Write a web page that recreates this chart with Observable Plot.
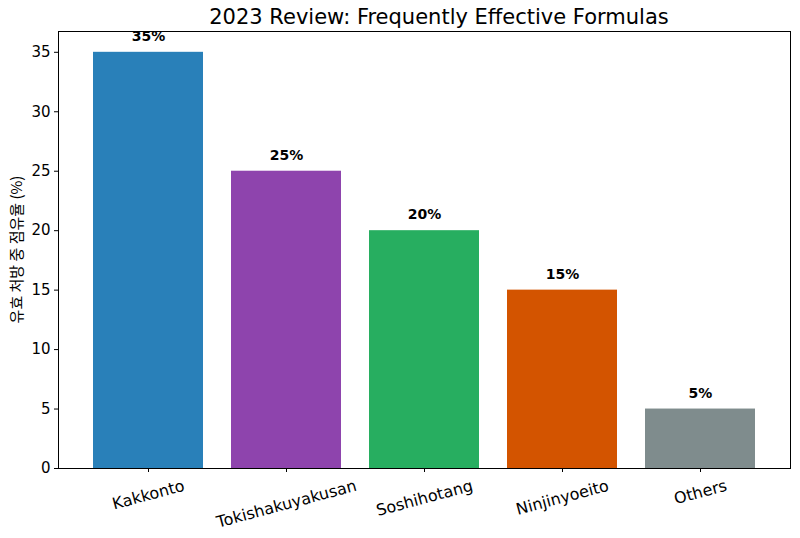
<!DOCTYPE html>
<html><head><meta charset="utf-8">
<script src="https://cdn.jsdelivr.net/npm/d3@7"></script>
<script src="https://cdn.jsdelivr.net/npm/@observablehq/plot@0.6"></script>
<style>body{margin:0;background:#fff;font-family:"DejaVu Sans",sans-serif}</style>
</head><body><div id="chart"></div>
<script>
const categories = ["Kakkonto","Tokishakuyakusan","Soshihotang","Ninjinyoeito","Others"];
const values = [35,25,20,15,5];
const colors = ["#2980b9","#8e44ad","#27ae60","#d35400","#7f8c8d"];
const yTicks = [0,5,10,15,20,25,30,35];
const title = "2023 Review: Frequently Effective Formulas";
const yLabel = "유효 처방 중 점유율 (%)";

const data = categories.map((c,i)=>({cat:c, value:values[i], color:colors[i]}));
const fontSize = 16;
const ctx = document.createElement("canvas").getContext("2d");
ctx.font = `${fontSize}px "DejaVu Sans"`;
const ang = 15*Math.PI/180;
const labelMarks = categories.map(c=>{
  const w = ctx.measureText(c).width;
  const h = fontSize*0.9;
  const bh = w*Math.sin(ang) + h*Math.cos(ang);
  return Plot.text([c], {x:d=>d, frameAnchor:"bottom", dy: 10 + bh/2, rotate:-15, textAnchor:"middle", lineAnchor:"middle", fontSize, fill:"#000"});
});

const plot = Plot.plot({
  width:800, height:538,
  marginTop:31, marginBottom:70, marginLeft:58, marginRight:10,
  style:{fontFamily:"'DejaVu Sans', sans-serif", fontSize:"15px", color:"#000", background:"#fff"},
  x:{domain:categories, paddingInner:0.2, paddingOuter:0.24, label:null},
  y:{domain:[0,36.75], label:null},
  marks:[
    Plot.barY(data,{x:"cat", y:"value", fill:"color"}),
    Plot.text(data,{x:"cat", y:"value", text:d=>d.value+"%", dy:-16, fontWeight:"bold", fontSize:14, fill:"#000"}),
    Plot.frame({stroke:"#000", strokeWidth:1}),
    Plot.axisY({ticks:yTicks, tickSize:4, tickPadding:4, fontSize:15, label:null, tickFormat:d=>d}),
    Plot.axisX({tickSize:4, tickFormat:()=>"", label:null}),
    ...labelMarks
  ]
});
document.getElementById("chart").appendChild(plot);
const svg = d3.select(plot);
svg.append("text").attr("x",439).attr("y",24).attr("text-anchor","middle")
  .style("font-size","21px").attr("font-family","'DejaVu Sans', sans-serif").attr("fill","#000").text(title);
svg.append("text").attr("transform","translate(22,249.5) rotate(-90)").attr("text-anchor","middle")
  .style("font-size","15px").attr("font-family","'Noto Sans CJK KR','DejaVu Sans', sans-serif").attr("fill","#000").text(yLabel);
</script></body></html>
